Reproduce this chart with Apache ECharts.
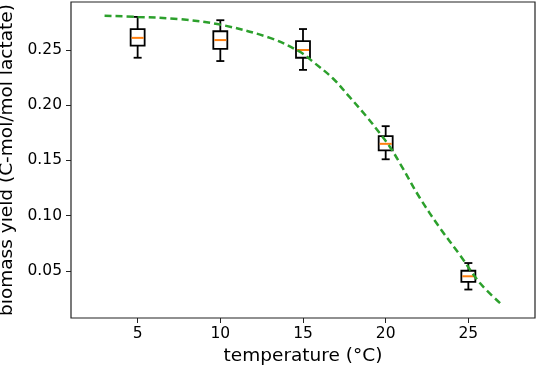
<!DOCTYPE html>
<html>
<head>
<meta charset="utf-8">
<script src="https://cdn.jsdelivr.net/npm/echarts@6/dist/echarts.min.js"></script>
<style>html,body{margin:0;padding:0;background:#fff;}#c{width:536px;height:370px;}</style>
</head>
<body>
<div id="c"></div>
<script>
// Box plot data (temperature groups)
var temps = [5, 10, 15, 20, 25];
var whiskerLow = [0.243, 0.240, 0.232, 0.151, 0.033];
var q1 = [0.254, 0.251, 0.243, 0.159, 0.040];
var median = [0.261, 0.259, 0.250, 0.165, 0.045];
var q3 = [0.269, 0.267, 0.258, 0.172, 0.050];
var whiskerHigh = [0.280, 0.277, 0.269, 0.181, 0.057];

// Model curve
var curveT = [3, 5, 7.5, 10, 13, 14.8, 15.6, 16.8, 17.8, 18.85, 19.65, 20.25, 20.86, 22.07, 23.28, 24.49, 25.7, 27];
var curveY = [0.281, 0.280, 0.278, 0.273, 0.261, 0.2485, 0.2394, 0.2244, 0.2077, 0.1896, 0.1745, 0.1624, 0.1474, 0.1159, 0.0888, 0.0643, 0.0389, 0.0195];

var xTicks = [5, 10, 15, 20, 25];
var yTicks = [0.05, 0.10, 0.15, 0.20, 0.25];

var boxData = temps.map(function (t, i) {
  return [t, whiskerLow[i], q1[i], median[i], q3[i], whiskerHigh[i]];
});
var curveData = curveT.map(function (t, i) { return [t, curveY[i]]; });

var FONT = 'DejaVu Sans';
var chart = echarts.init(document.getElementById('c'), null, {renderer: 'canvas'});

function renderBox(params, api) {
  var x = api.value(0);
  var pLow = api.coord([x, api.value(1)]);
  var pQ1 = api.coord([x, api.value(2)]);
  var pMed = api.coord([x, api.value(3)]);
  var pQ3 = api.coord([x, api.value(4)]);
  var pHigh = api.coord([x, api.value(5)]);
  var cx = pMed[0];
  var hw = 7, cw = 4;
  var st = {stroke: '#000', lineWidth: 1.8, fill: null};
  return {
    type: 'group',
    children: [
      {type: 'line', shape: {x1: cx, y1: pQ3[1], x2: cx, y2: pHigh[1]}, style: st},
      {type: 'line', shape: {x1: cx, y1: pQ1[1], x2: cx, y2: pLow[1]}, style: st},
      {type: 'line', shape: {x1: cx - cw, y1: pHigh[1], x2: cx + cw, y2: pHigh[1]}, style: st},
      {type: 'line', shape: {x1: cx - cw, y1: pLow[1], x2: cx + cw, y2: pLow[1]}, style: st},
      {type: 'rect', shape: {x: cx - hw, y: pQ3[1], width: 2 * hw, height: pQ1[1] - pQ3[1]}, style: {stroke: '#000', lineWidth: 1.8, fill: 'rgba(0,0,0,0)'}},
      {type: 'line', shape: {x1: cx - hw + 1, y1: pMed[1], x2: cx + hw - 1, y2: pMed[1]}, style: {stroke: '#ff7f0e', lineWidth: 2}}
    ]
  };
}

chart.setOption({
  animation: false,
  backgroundColor: '#fff',
  grid: {left: 71, top: 2, right: 1, bottom: 52, containLabel: false, outerBoundsMode: 'none',
    show: true, borderColor: '#222', borderWidth: 1.2, backgroundColor: 'transparent'},
  xAxis: {
    type: 'value', min: 0.97, max: 29.03,
    name: 'temperature (°C)', nameLocation: 'middle', nameGap: 27,
    nameTextStyle: {fontFamily: FONT, fontSize: 18.5, color: '#000'},
    axisLine: {show: false},
    axisTick: {show: true, inside: false, length: 5, customValues: xTicks, lineStyle: {color: '#222', width: 1}},
    axisLabel: {customValues: xTicks, fontFamily: FONT, fontSize: 15.5, color: '#000', margin: 8},
    splitLine: {show: false}
  },
  yAxis: {
    type: 'value', min: 0.0072, max: 0.2935,
    name: 'biomass yield (C-mol/mol lactate)', nameLocation: 'middle', nameGap: 50,
    nameTextStyle: {fontFamily: FONT, fontSize: 18.5, color: '#000'},
    axisLine: {show: false},
    axisTick: {show: true, inside: false, length: 5, customValues: yTicks, lineStyle: {color: '#222', width: 1}},
    axisLabel: {customValues: yTicks, fontFamily: FONT, fontSize: 15.5, color: '#000', margin: 9,
      formatter: function (v) { return v.toFixed(2); }},
    splitLine: {show: false}
  },
  series: [
    {
      type: 'line', data: curveData, smooth: 0.35, showSymbol: false, z: 3,
      lineStyle: {color: '#2ca02c', width: 2.5, type: [7, 4]}
    },
    {
      type: 'custom', data: boxData, renderItem: renderBox, z: 2,
      encode: {x: 0, y: [1, 2, 3, 4, 5]}
    }
  ]
});
</script>
</body>
</html>
